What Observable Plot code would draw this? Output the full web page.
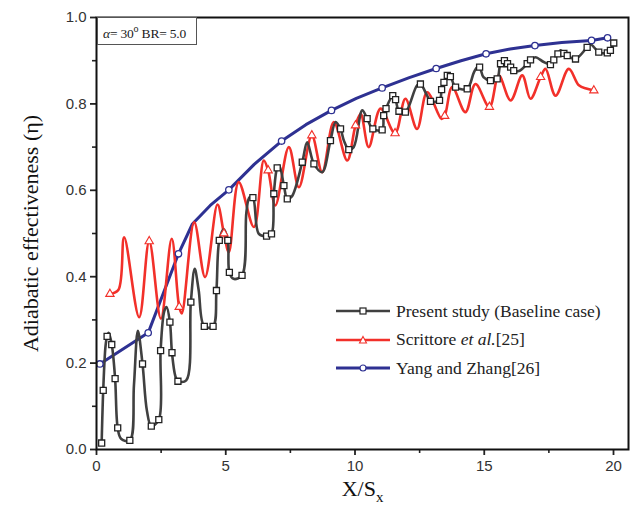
<!DOCTYPE html>
<html>
<head>
<meta charset="utf-8">
<script src="https://cdn.jsdelivr.net/npm/d3@7"></script>
<script src="https://cdn.jsdelivr.net/npm/@observablehq/plot@0.6"></script>
<style>
  html, body { margin: 0; padding: 0; background: #fff; }
  #wrap { position: relative; width: 636px; height: 517px; }
  #wrap svg { font-family: "Liberation Sans", Arial, sans-serif; }
  .anno { position: absolute; left: 97px; top: 17px; width: 100px; height: 28px; box-sizing: border-box;
          border: 1px solid #555; font-family: "Liberation Serif", serif; font-size: 13.5px; color: #222;
          padding: 5px 0 0 5px; background: #fff; white-space: nowrap; letter-spacing: -0.2px; }
  .legend { position: absolute; left: 336px; top: 297px; font-family: "Liberation Serif", serif; font-size: 17.5px; color: #222; }
  .legend .row { height: 28.5px; display: flex; align-items: center; }
  .legend svg { margin-right: 6px; }
</style>
</head>
<body>
<div id="wrap"></div>
<script>
// ---- data ----
const xMajor = [0, 5, 10, 15, 20];
const xMinor = [2.5, 7.5, 12.5, 17.5];
const yMajor = [0.0, 0.2, 0.4, 0.6, 0.8, 1.0];
const yMinor = [0.1, 0.3, 0.5, 0.7, 0.9];

// Present study (Baseline case): x, y, marker flag
const presentX = [0.2,0.26,0.35,0.41,0.47,0.59,0.72,0.82,0.95,1.29,1.45,1.6,1.78,1.95,2.12,2.41,2.48,2.62,2.71,2.84,2.92,3.05,3.15,3.47,3.65,3.8,3.95,4.17,4.51,4.64,4.75,4.92,5.08,5.14,5.3,5.63,5.8,5.92,6.05,6.28,6.58,6.77,6.86,6.99,7.07,7.25,7.38,7.55,7.96,8.15,8.41,8.73,9.05,9.25,9.44,9.57,9.76,9.95,10.28,10.47,10.69,11.05,11.11,11.2,11.46,11.57,11.7,11.95,12.4,12.53,12.79,12.92,13.27,13.35,13.44,13.57,13.69,13.89,14.34,14.6,14.73,14.82,14.97,15.24,15.5,15.63,15.78,15.9,16.02,16.14,16.34,16.66,16.79,16.98,17.3,17.56,17.69,17.85,17.95,18.08,18.21,18.53,18.98,19.11,19.43,19.76,19.88,20.01];
const presentY = [0.015,0.137,0.24,0.262,0.27,0.243,0.164,0.05,0.025,0.021,0.15,0.275,0.198,0.09,0.054,0.069,0.229,0.32,0.33,0.295,0.224,0.17,0.158,0.16,0.341,0.418,0.37,0.285,0.285,0.368,0.484,0.51,0.484,0.41,0.395,0.403,0.55,0.584,0.583,0.499,0.494,0.499,0.592,0.652,0.657,0.611,0.58,0.585,0.665,0.711,0.661,0.642,0.715,0.758,0.742,0.715,0.694,0.70,0.785,0.766,0.742,0.74,0.773,0.789,0.819,0.81,0.783,0.781,0.843,0.846,0.819,0.806,0.808,0.833,0.85,0.866,0.863,0.839,0.835,0.873,0.885,0.885,0.862,0.854,0.858,0.893,0.90,0.893,0.885,0.877,0.876,0.893,0.902,0.908,0.897,0.891,0.902,0.916,0.924,0.917,0.912,0.904,0.931,0.938,0.92,0.918,0.924,0.941];
const presentM = [1,1,0,1,0,1,1,1,0,1,0,0,1,0,1,1,1,0,0,1,1,0,1,0,1,0,0,1,1,1,1,0,1,1,0,1,0,0,1,0,1,1,1,1,0,1,1,0,1,0,1,0,1,0,1,0,1,0,0,1,1,1,1,1,1,1,1,1,0,1,0,1,1,1,1,1,1,1,1,0,0,1,0,1,1,1,1,1,1,1,0,1,1,0,0,1,1,1,0,1,1,1,1,0,1,1,1,1];

// Scrittore et al. [25]
const scrX = [0.52,0.85,1.07,1.65,2.04,2.49,2.91,3.2,3.3,3.78,4.2,4.68,4.93,5.12,5.5,6.09,6.47,6.64,6.92,7.44,7.83,8.33,8.73,9.18,9.7,10.02,10.22,10.53,10.99,11.55,11.95,12.4,12.79,13.35,13.47,13.76,14.27,14.66,15.2,15.56,16.02,16.47,16.79,17.18,17.37,17.76,18.27,18.66,18.98,19.24];
const scrY = [0.36,0.37,0.491,0.306,0.482,0.303,0.488,0.33,0.315,0.526,0.399,0.567,0.50,0.457,0.619,0.515,0.669,0.646,0.565,0.70,0.607,0.727,0.642,0.758,0.669,0.75,0.777,0.70,0.789,0.732,0.812,0.742,0.827,0.765,0.772,0.839,0.781,0.846,0.793,0.866,0.808,0.866,0.812,0.862,0.881,0.819,0.881,0.843,0.835,0.831];
const scrM = [1,0,0,0,1,0,0,1,0,0,0,0,1,0,0,0,0,1,0,0,0,1,0,0,0,1,0,0,0,1,0,0,0,0,1,0,0,0,1,0,0,0,0,1,0,0,0,0,0,1];

// Yang and Zhang [26]
const yzX = [0.13,2.0,3.17,3.71,4.4,5.12,6.1,7.16,8.1,9.09,10.05,11.05,12.1,13.14,14.1,15.07,16.0,16.96,18.0,19.15,19.77];
const yzY = [0.198,0.27,0.453,0.522,0.565,0.601,0.66,0.714,0.752,0.785,0.813,0.837,0.861,0.882,0.9,0.916,0.927,0.935,0.942,0.947,0.953];
const yzM = [1,1,1,0,0,1,0,1,0,1,0,1,0,1,0,1,0,1,0,1,1];

const seriesNames = ["Present study (Baseline case)", "Scrittore et al.[25]", "Yang and Zhang[26]"];
const colors = ["#404040", "#f2302a", "#2e3192"];

const rows = (xs, ys, ms) => xs.map((x, i) => ({x, y: ys[i], m: ms[i]}));
const present = rows(presentX, presentY, presentM);
const scr = rows(scrX, scrY, scrM);
const yz = rows(yzX, yzY, yzM);

const chart = Plot.plot({
  width: 636, height: 517,
  marginLeft: 96, marginRight: 8, marginTop: 17, marginBottom: 68,
  x: {domain: [0, 20.58]},
  y: {domain: [0, 1]},
  style: {fontSize: "14px", color: "#222", background: "#fff"},
  marks: [
    Plot.axisX({ticks: xMinor, tickSize: 4, text: null, strokeWidth: 1.6, label: null}),
    Plot.axisX({ticks: xMajor, tickSize: 6, tickPadding: 5, tickFormat: d => String(d), strokeWidth: 1.8, fontSize: 15, fill: "#333",
                label: "X/Sx", labelAnchor: "center", labelOffset: 46, labelArrow: "none"}),
    Plot.axisY({ticks: yMinor, tickSize: 4, text: null, strokeWidth: 1.6, label: null}),
    Plot.axisY({ticks: yMajor, tickSize: 6, tickPadding: 4, tickFormat: d3.format(".1f"), strokeWidth: 1.8, fontSize: 15, fill: "#333",
                label: "Adiabatic effectiveness (η)", labelAnchor: "center", labelOffset: 74, labelArrow: "none"}),
    Plot.line(yz, {x: "x", y: "y", stroke: colors[2], strokeWidth: 3, curve: "linear"}),
    Plot.line(scr, {x: "x", y: "y", stroke: colors[1], strokeWidth: 2.6, curve: "catmull-rom"}),
    Plot.line(present, {x: "x", y: "y", stroke: colors[0], strokeWidth: 2.6, curve: "catmull-rom"}),
    Plot.dot(yz.filter(d => d.m), {x: "x", y: "y", r: 3.2, fill: "white", stroke: colors[2], strokeWidth: 1.3}),
    Plot.dot(scr.filter(d => d.m), {x: "x", y: "y", symbol: "triangle", r: 3.1, fill: "white", stroke: colors[1], strokeWidth: 1.1}),
    Plot.dot(present.filter(d => d.m), {x: "x", y: "y", symbol: "square", r: 3.4, fill: "white", stroke: "#222", strokeWidth: 1.3}),
    Plot.frame({stroke: "#111", strokeWidth: 2})
  ]
});
document.getElementById("wrap").appendChild(chart);

// axis label styling
const svg = d3.select(chart);
svg.selectAll('[aria-label="y-axis label"] text, [aria-label="x-axis label"] text')
   .style("font-family", '"Liberation Serif", serif').style("font-size", "22px").attr("fill", "#111");
const xl = svg.select('[aria-label="x-axis label"] text');
xl.text("X/S");
xl.append("tspan").attr("dy", "6").attr("font-size", "15px").text("x");

// annotation box
const anno = document.createElement("div");
anno.className = "anno";
anno.innerHTML = '<i>α</i>= 30<sup style="font-size:10px">o</sup> BR= 5.0';
document.getElementById("wrap").appendChild(anno);

// legend
const legend = document.createElement("div");
legend.className = "legend";
const syms = [
  '<rect x="24" y="4" width="6" height="6" fill="white" stroke="#222" stroke-width="1.2"/>',
  '<path d="M27,3.5 L30.5,10 L23.5,10 Z" fill="white" stroke="' + colors[1] + '" stroke-width="1.1"/>',
  '<circle cx="27" cy="7" r="3" fill="white" stroke="' + colors[2] + '" stroke-width="1.2"/>'
];
const labels = ["Present study (Baseline case)", 'Scrittore <i>et al.</i>[25]', "Yang and Zhang[26]"];
legend.innerHTML = labels.map((l, i) =>
  '<div class="row"><svg width="54" height="14"><line x1="0" y1="7" x2="54" y2="7" stroke="' + colors[i] +
  '" stroke-width="' + (i === 2 ? 3 : 2.6) + '"/>' + syms[i] + '</svg><span>' + l + '</span></div>').join("");
document.getElementById("wrap").appendChild(legend);
</script>
</body>
</html>
